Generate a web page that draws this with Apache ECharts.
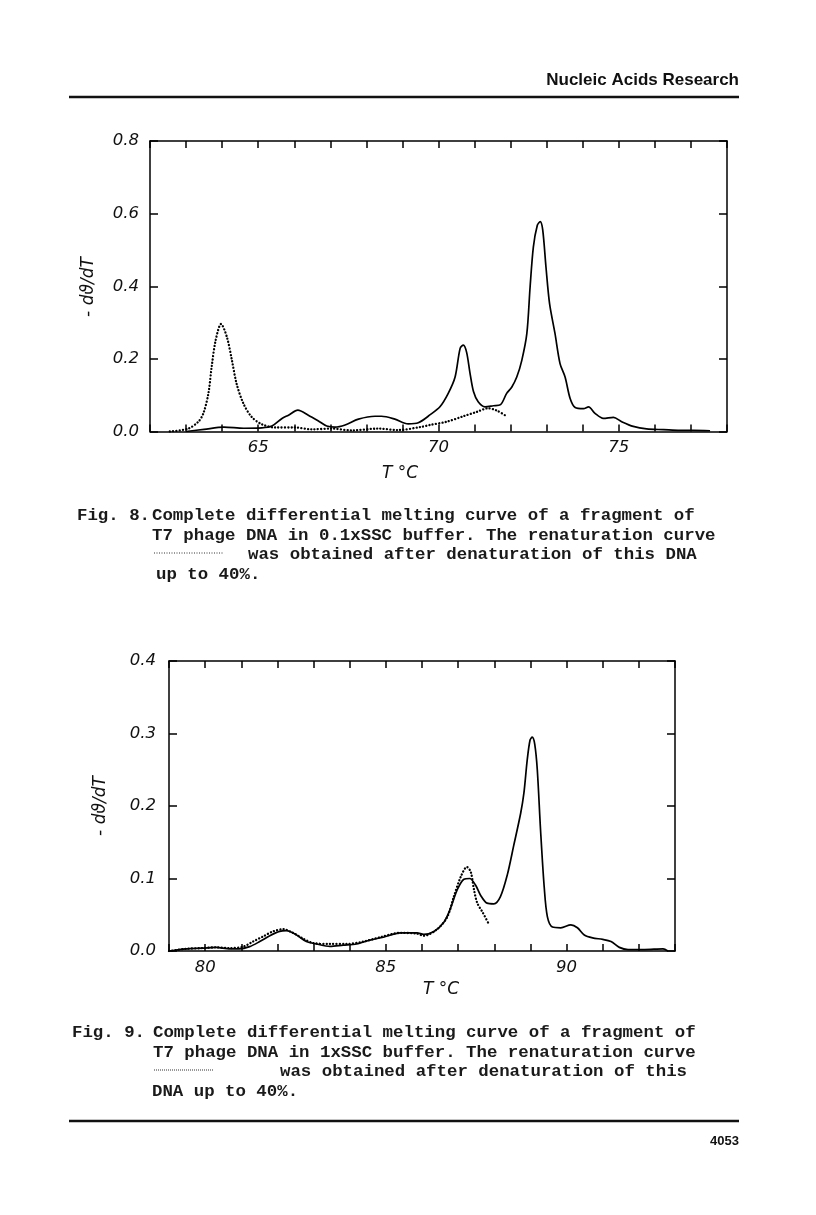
<!DOCTYPE html>
<html>
<head>
<meta charset="utf-8">
<script src="https://cdn.jsdelivr.net/npm/echarts@6/dist/echarts.min.js"></script>
<style>
html,body{margin:0;padding:0;background:#fff;}
#c{width:816px;height:1215px;}
</style>
</head>
<body>
<div id="c"></div>
<script>
// ---- Fig. 8 (0.1xSSC) ----
const fig8MeltT = [63.0, 63.5, 64.05, 64.6, 65.1, 65.38, 65.66, 65.84, 66.1, 66.39, 66.67, 66.9, 67.13, 67.41, 67.78, 68.24, 68.42, 68.79, 69.16, 69.44, 69.78, 70.04, 70.27, 70.46, 70.6, 70.69, 70.78, 70.87, 70.97, 71.1, 71.29, 71.52, 71.72, 71.89, 72.03, 72.17, 72.31, 72.45, 72.54, 72.63, 72.74, 72.82, 72.89, 72.98, 73.08, 73.23, 73.37, 73.51, 73.65, 73.79, 74.02, 74.16, 74.34, 74.57, 74.85, 75.08, 75.4, 75.77, 76.24, 76.7, 77.07, 77.53];
const fig8MeltV = [0.0, 0.006, 0.012, 0.009, 0.01, 0.015, 0.036, 0.045, 0.059, 0.045, 0.029, 0.015, 0.012, 0.018, 0.034, 0.042, 0.042, 0.034, 0.021, 0.024, 0.047, 0.068, 0.105, 0.15, 0.229, 0.238, 0.218, 0.163, 0.11, 0.082, 0.068, 0.071, 0.074, 0.105, 0.122, 0.15, 0.196, 0.27, 0.398, 0.508, 0.568, 0.578, 0.555, 0.453, 0.352, 0.27, 0.187, 0.15, 0.091, 0.066, 0.063, 0.068, 0.05, 0.036, 0.039, 0.027, 0.014, 0.007, 0.005, 0.003, 0.003, 0.002];
const fig8RenatT = [62.55, 63.06, 63.34, 63.48, 63.62, 63.71, 63.82, 63.97, 64.13, 64.27, 64.4, 64.59, 64.82, 65.1, 65.47, 66.02, 66.48, 67.04, 67.59, 68.33, 68.88, 69.53, 69.76, 70.23, 70.69, 71.06, 71.38, 71.61, 71.84];
const fig8RenatV = [0.0, 0.008, 0.027, 0.05, 0.105, 0.178, 0.251, 0.296, 0.261, 0.197, 0.132, 0.077, 0.04, 0.02, 0.011, 0.011, 0.006, 0.008, 0.003, 0.008, 0.004, 0.013, 0.018, 0.027, 0.042, 0.054, 0.064, 0.058, 0.045];
const fig8XLabels = [65, 70, 75];

// ---- Fig. 9 (1xSSC) ----
const fig9MeltT = [79.0, 79.47, 79.93, 80.3, 80.68, 80.95, 81.23, 81.51, 81.79, 82.06, 82.25, 82.53, 82.8, 83.08, 83.45, 83.82, 84.19, 84.56, 84.93, 85.4, 85.86, 86.05, 86.33, 86.61, 86.79, 86.97, 87.16, 87.32, 87.48, 87.62, 87.8, 87.99, 88.17, 88.36, 88.54, 88.73, 88.82, 88.91, 88.99, 89.05, 89.12, 89.19, 89.28, 89.38, 89.47, 89.61, 89.84, 90.12, 90.3, 90.49, 90.72, 91.0, 91.23, 91.46, 91.7, 92.16, 92.67, 92.8];
const fig9MeltV = [0.0, 0.003, 0.004, 0.005, 0.003, 0.003, 0.006, 0.013, 0.021, 0.027, 0.028, 0.022, 0.013, 0.0097, 0.0063, 0.008, 0.0097, 0.015, 0.019, 0.025, 0.025, 0.023, 0.027, 0.04, 0.059, 0.084, 0.099, 0.1, 0.091, 0.077, 0.066, 0.065, 0.075, 0.105, 0.146, 0.19, 0.218, 0.263, 0.291, 0.295, 0.285, 0.25, 0.167, 0.089, 0.047, 0.033, 0.032, 0.036, 0.032, 0.022, 0.018, 0.016, 0.013, 0.005, 0.002, 0.002, 0.003, 0.0];
const fig9RenatT = [79.0, 79.47, 79.93, 80.3, 80.68, 81.05, 81.32, 81.6, 81.88, 82.16, 82.43, 82.71, 82.99, 83.45, 83.91, 84.38, 84.84, 85.4, 85.86, 86.05, 86.42, 86.7, 86.88, 87.07, 87.24, 87.35, 87.44, 87.53, 87.67, 87.83];
const fig9RenatV = [0.0, 0.003, 0.004, 0.005, 0.004, 0.006, 0.013, 0.02, 0.027, 0.03, 0.025, 0.017, 0.011, 0.0097, 0.0097, 0.013, 0.019, 0.025, 0.024, 0.021, 0.03, 0.047, 0.075, 0.102, 0.116, 0.109, 0.084, 0.066, 0.054, 0.039];
const fig9XLabels = [80, 85, 90];

const zip = (a, b) => a.map((x, i) => [x, b[i]]);

const AX = {color: '#000', width: 1.5};
const LBL = {fontFamily: 'DejaVu Sans', fontStyle: 'italic', fontSize: 16.5, color: '#111'};
const TITLE = {fontFamily: 'DejaVu Sans', fontStyle: 'italic', fontSize: 17, fill: '#111', align: 'center', verticalAlign: 'middle'};
const CAP = {fontFamily: 'Liberation Mono', fontWeight: 'bold', fontSize: 17.4, fill: '#1a1a1a', verticalAlign: 'middle'};

function xAxes(grid, min, max, labels) {
  return [
    {gridIndex: grid, type: 'value', position: 'bottom', min, max, interval: 1,
     axisLine: {onZero: false, lineStyle: AX}, axisTick: {inside: true, length: 7, lineStyle: AX},
     axisLabel: Object.assign({margin: 8, formatter: v => labels.includes(v) ? String(v) : ''}, LBL),
     splitLine: {show: false}},
    {gridIndex: grid, type: 'value', position: 'top', min, max, interval: 1,
     axisLine: {onZero: false, lineStyle: AX}, axisTick: {inside: true, length: 7, lineStyle: AX},
     axisLabel: {show: false}, splitLine: {show: false}}
  ];
}
function yAxes(grid, max, interval, margin) {
  return [
    {gridIndex: grid, type: 'value', position: 'left', min: 0, max, interval,
     axisLine: {show: true, onZero: false, lineStyle: AX}, axisTick: {show: true, inside: true, length: 8, lineStyle: AX},
     axisLabel: Object.assign({margin, formatter: v => v.toFixed(1)}, LBL), splitLine: {show: false}},
    {gridIndex: grid, type: 'value', position: 'right', min: 0, max, interval,
     axisLine: {show: true, onZero: false, lineStyle: AX}, axisTick: {show: true, inside: true, length: 8, lineStyle: AX},
     axisLabel: {show: false}, splitLine: {show: false}}
  ];
}
const solid = {color: '#000', width: 1.7};
const dotted = {color: '#000', width: 2.3, type: [0.1, 3.2], cap: 'round'};

function capLines(y0, step, lines) {
  return lines.map(l => ({type: 'text', x: l[0], y: y0 + l[1] * step,
    style: Object.assign({text: l[2]}, CAP)}));
}

const chart = echarts.init(document.getElementById('c'), null, {renderer: 'canvas'});
chart.setOption({
  backgroundColor: '#fff',
  animation: false,
  grid: [
    {left: 150, top: 141, width: 577, height: 290.5},
    {left: 169, top: 661, width: 506, height: 290}
  ],
  xAxis: [...xAxes(0, 62, 78, fig8XLabels), ...xAxes(1, 79, 93, fig9XLabels)],
  yAxis: [...yAxes(0, 0.8, 0.2, 11), ...yAxes(1, 0.4, 0.1, 13)],
  series: [
    {type: 'line', xAxisIndex: 0, yAxisIndex: 0, data: zip(fig8MeltT, fig8MeltV), showSymbol: false, smooth: 0.3, lineStyle: solid},
    {type: 'line', xAxisIndex: 0, yAxisIndex: 0, data: zip(fig8RenatT, fig8RenatV), showSymbol: false, smooth: 0.3, lineStyle: dotted},
    {type: 'line', xAxisIndex: 2, yAxisIndex: 2, data: zip(fig9MeltT, fig9MeltV), showSymbol: false, smooth: 0.3, lineStyle: solid},
    {type: 'line', xAxisIndex: 2, yAxisIndex: 2, data: zip(fig9RenatT, fig9RenatV), showSymbol: false, smooth: 0.3, lineStyle: dotted}
  ],
  graphic: [
    {type: 'text', x: 739, y: 80, style: {text: 'Nucleic Acids Research', fontFamily: 'Liberation Sans', fontWeight: 'bold', fontSize: 17, fill: '#111', align: 'right', verticalAlign: 'middle'}},
    {type: 'line', shape: {x1: 69, y1: 97, x2: 739, y2: 97}, style: {stroke: '#111', lineWidth: 2.6}},
    {type: 'text', x: 89, y: 287, rotation: Math.PI / 2, style: Object.assign({text: '- dϑ/dT'}, TITLE)},
    {type: 'text', x: 400, y: 474, style: Object.assign({text: 'T °C'}, TITLE)},
    {type: 'text', x: 101, y: 806, rotation: Math.PI / 2, style: Object.assign({text: '- dϑ/dT'}, TITLE)},
    {type: 'text', x: 441, y: 990, style: Object.assign({text: 'T °C'}, TITLE)},
    ...capLines(516, 19.5, [
      [77, 0, 'Fig. 8.'],
      [152, 0, 'Complete differential melting curve of a fragment of'],
      [152, 1, 'T7 phage DNA in 0.1xSSC buffer. The renaturation curve'],
      [248, 2, 'was obtained after denaturation of this DNA'],
      [156, 3, 'up to 40%.']
    ]),
    {type: 'line', shape: {x1: 154, y1: 553, x2: 224, y2: 553}, style: {stroke: '#333', lineWidth: 1, lineDash: [1, 1.5]}},
    ...capLines(1033, 19.5, [
      [72, 0, 'Fig. 9.'],
      [153, 0, 'Complete differential melting curve of a fragment of'],
      [153, 1, 'T7 phage DNA in 1xSSC buffer. The renaturation curve'],
      [280, 2, 'was obtained after denaturation of this'],
      [152, 3, 'DNA up to 40%.']
    ]),
    {type: 'line', shape: {x1: 154, y1: 1070, x2: 213, y2: 1070}, style: {stroke: '#333', lineWidth: 1, lineDash: [1, 1]}},
    {type: 'line', shape: {x1: 69, y1: 1121, x2: 739, y2: 1121}, style: {stroke: '#111', lineWidth: 2.6}},
    {type: 'text', x: 739, y: 1141, style: {text: '4053', fontFamily: 'Liberation Sans', fontWeight: 'bold', fontSize: 13, fill: '#111', align: 'right', verticalAlign: 'middle'}}
  ]
});
</script>
</body>
</html>
